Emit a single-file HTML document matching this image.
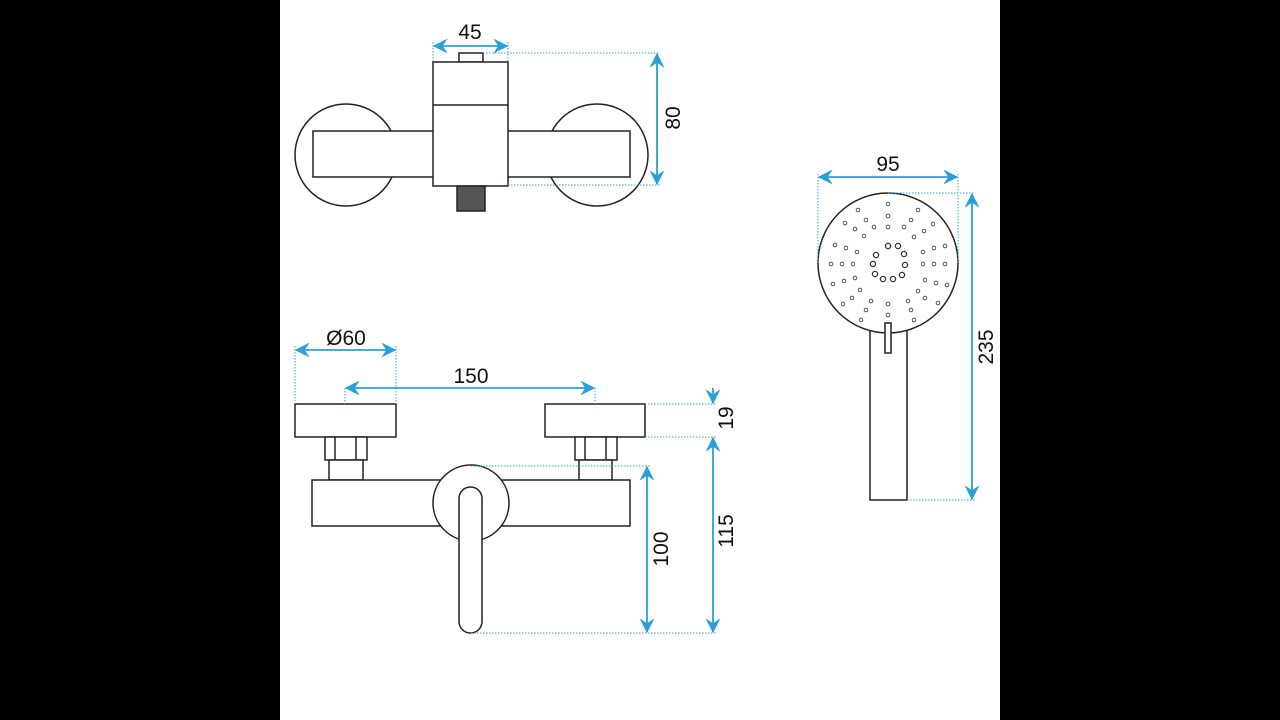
<!DOCTYPE html>
<html><head><meta charset="utf-8"><style>
html,body{margin:0;padding:0;background:#000;}
svg{display:block}
text{font-family:"Liberation Sans",sans-serif;font-size:21px;fill:#111}
</style></head><body>
<svg width="1280" height="720" viewBox="0 0 1280 720" xmlns="http://www.w3.org/2000/svg">
<defs>
<marker id="a" viewBox="0 0 12 12" refX="11" refY="6" markerWidth="15" markerHeight="15" markerUnits="userSpaceOnUse" orient="auto-start-reverse">
<path d="M0,0 L12,6 L0,12 L4,6 Z" fill="#2a9fd8"/></marker>
</defs>
<rect x="0" y="0" width="1280" height="720" fill="#000"/>
<rect x="280" y="0" width="720" height="720" fill="#fff"/>

<g fill="#fff" stroke="#222" stroke-width="1.5">
<circle cx="346" cy="155" r="51"/>
<circle cx="597" cy="155" r="51"/>
<rect x="313" y="131" width="317" height="46"/>
<rect x="459" y="53" width="24" height="9"/>
<rect x="433" y="62" width="75" height="124"/>
<line x1="433" y1="105" x2="508" y2="105"/>
<rect x="457" y="186" width="28" height="25" fill="#555"/>

<rect x="295" y="404" width="101" height="33"/>
<rect x="545" y="404" width="100" height="33"/>
<rect x="325" y="437" width="42" height="23"/>
<line x1="335" y1="437" x2="335" y2="460"/><line x1="356" y1="437" x2="356" y2="460"/>
<rect x="329" y="460" width="34" height="20"/>
<rect x="575" y="437" width="42" height="23"/>
<line x1="585" y1="437" x2="585" y2="460"/><line x1="606" y1="437" x2="606" y2="460"/>
<rect x="579" y="460" width="33" height="20"/>
<rect x="312" y="480" width="318" height="46"/>
<circle cx="471" cy="503" r="38"/>
<rect x="459" y="487" width="23" height="146" rx="11.5"/>

<rect x="870" y="320" width="37" height="180"/>
<circle cx="888" cy="263" r="70"/>
<rect x="885" y="323" width="6" height="30"/>
</g>

<g fill="none" stroke="#333" stroke-width="1.3">
<circle cx="888" cy="246" r="2.6"/><circle cx="898" cy="246" r="2.6"/><circle cx="904" cy="254" r="2.6"/>
<circle cx="905" cy="265" r="2.6"/><circle cx="902" cy="275" r="2.6"/><circle cx="893" cy="279" r="2.6"/>
<circle cx="883" cy="279" r="2.6"/><circle cx="875" cy="274" r="2.6"/><circle cx="873" cy="264" r="2.6"/><circle cx="876" cy="255" r="2.6"/>
</g>
<g fill="none" stroke="#444" stroke-width="0.9">
<circle cx="888" cy="204" r="1.8"/><circle cx="888" cy="216" r="1.8"/><circle cx="888" cy="227" r="1.8"/>
<circle cx="888" cy="304" r="1.8"/><circle cx="888" cy="315" r="1.8"/>
<circle cx="831" cy="264" r="1.8"/><circle cx="842" cy="264" r="1.8"/><circle cx="853" cy="264" r="1.8"/>
<circle cx="945" cy="264" r="1.8"/><circle cx="934" cy="264" r="1.8"/><circle cx="923" cy="264" r="1.8"/>
<circle cx="858" cy="210" r="1.8"/><circle cx="866" cy="220" r="1.8"/><circle cx="874" cy="227" r="1.8"/>
<circle cx="918" cy="210" r="1.8"/><circle cx="911" cy="220" r="1.8"/><circle cx="904" cy="227" r="1.8"/>
<circle cx="845" cy="223" r="1.8"/><circle cx="855" cy="229" r="1.8"/><circle cx="864" cy="236" r="1.8"/>
<circle cx="933" cy="224" r="1.8"/><circle cx="924" cy="231" r="1.8"/><circle cx="914" cy="237" r="1.8"/>
<circle cx="835" cy="245" r="1.8"/><circle cx="846" cy="248" r="1.8"/><circle cx="857" cy="252" r="1.8"/>
<circle cx="945" cy="246" r="1.8"/><circle cx="934" cy="248" r="1.8"/><circle cx="923" cy="252" r="1.8"/>
<circle cx="833" cy="284" r="1.8"/><circle cx="844" cy="281" r="1.8"/><circle cx="855" cy="278" r="1.8"/>
<circle cx="947" cy="285" r="1.8"/><circle cx="936" cy="283" r="1.8"/><circle cx="925" cy="280" r="1.8"/>
<circle cx="843" cy="304" r="1.8"/><circle cx="852" cy="298" r="1.8"/><circle cx="860" cy="290" r="1.8"/>
<circle cx="938" cy="303" r="1.8"/><circle cx="925" cy="298" r="1.8"/><circle cx="918" cy="291" r="1.8"/>
<circle cx="861" cy="320" r="1.8"/><circle cx="866" cy="310" r="1.8"/><circle cx="871" cy="301" r="1.8"/>
<circle cx="914" cy="320" r="1.8"/><circle cx="911" cy="310" r="1.8"/><circle cx="908" cy="301" r="1.8"/>
</g>

<g stroke="#2a9fd8" stroke-width="1" stroke-dasharray="1.5,1.5" fill="none">
<line x1="433" y1="42" x2="433" y2="62"/><line x1="508" y1="42" x2="508" y2="62"/>
<line x1="483" y1="53" x2="660" y2="53"/><line x1="508" y1="185" x2="660" y2="185"/>
<line x1="295" y1="346" x2="295" y2="404"/><line x1="396" y1="346" x2="396" y2="404"/>
<line x1="345" y1="388" x2="345" y2="404"/><line x1="595" y1="388" x2="595" y2="404"/>
<line x1="645" y1="404" x2="716" y2="404"/><line x1="645" y1="437" x2="716" y2="437"/>
<line x1="471" y1="466" x2="650" y2="466"/><line x1="471" y1="633" x2="716" y2="633"/>
<line x1="818" y1="174" x2="818" y2="263"/><line x1="958" y1="174" x2="958" y2="263"/>
<line x1="888" y1="193" x2="975" y2="193"/><line x1="907" y1="500" x2="975" y2="500"/>
</g>

<g stroke="#2a9fd8" stroke-width="1.8" fill="none">
<line x1="434" y1="46" x2="507" y2="46" marker-start="url(#a)" marker-end="url(#a)"/>
<line x1="657" y1="54" x2="657" y2="184" marker-start="url(#a)" marker-end="url(#a)"/>
<line x1="296" y1="350" x2="395" y2="350" marker-start="url(#a)" marker-end="url(#a)"/>
<line x1="346" y1="388" x2="594" y2="388" marker-start="url(#a)" marker-end="url(#a)"/>
<line x1="713" y1="388" x2="713" y2="403" marker-end="url(#a)"/>
<line x1="713" y1="438" x2="713" y2="632" marker-start="url(#a)" marker-end="url(#a)"/>
<line x1="647" y1="467" x2="647" y2="632" marker-start="url(#a)" marker-end="url(#a)"/>
<line x1="819" y1="177" x2="957" y2="177" marker-start="url(#a)" marker-end="url(#a)"/>
<line x1="972" y1="194" x2="972" y2="499" marker-start="url(#a)" marker-end="url(#a)"/>
</g>

<g>
<text x="470" y="39" text-anchor="middle">45</text>
<text transform="translate(680,118) rotate(-90)" text-anchor="middle">80</text>
<text x="346" y="345" text-anchor="middle">Ø60</text>
<text x="471" y="383" text-anchor="middle">150</text>
<text transform="translate(733,418) rotate(-90)" text-anchor="middle">19</text>
<text transform="translate(733,531) rotate(-90)" text-anchor="middle">115</text>
<text transform="translate(668,549) rotate(-90)" text-anchor="middle">100</text>
<text x="888" y="171" text-anchor="middle">95</text>
<text transform="translate(993,347) rotate(-90)" text-anchor="middle">235</text>
</g>
</svg>
</body></html>
